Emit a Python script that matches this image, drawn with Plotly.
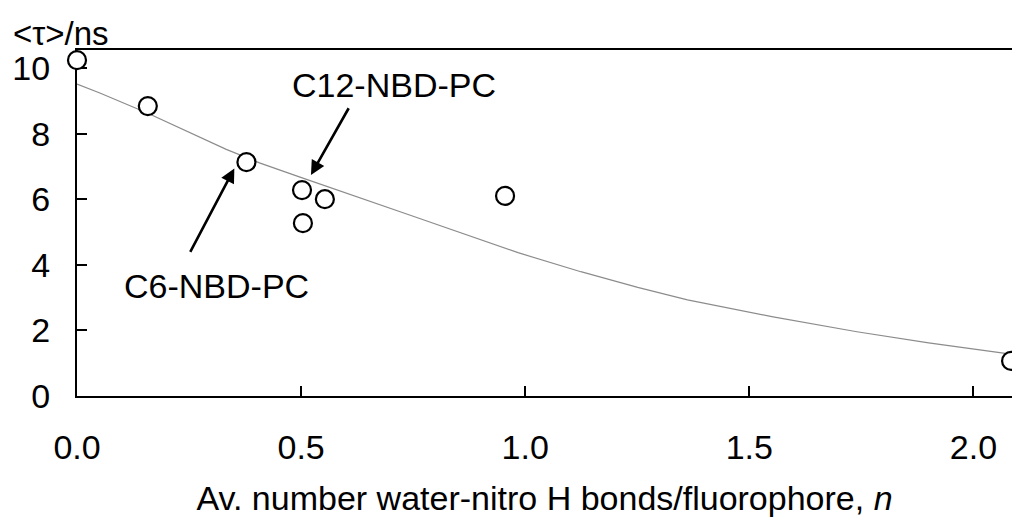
import plotly.graph_objects as go

# measured data points
n_vals = [0.0, 0.158, 0.378, 0.502, 0.553, 0.504, 0.955, 2.084]
tau_vals = [10.24, 8.84, 7.13, 6.28, 6.00, 5.27, 6.10, 1.07]

# fitted curve
fit_n = [0.0, 0.051, 0.158, 0.333, 0.407, 0.496, 0.75, 0.984, 1.124, 1.251, 1.362, 1.55, 1.74, 1.9, 2.067, 2.086]
fit_tau = [9.51, 9.24, 8.62, 7.52, 7.11, 6.68, 5.48, 4.37, 3.79, 3.31, 2.93, 2.42, 1.96, 1.62, 1.31, 1.27]

x_ticks = [0.0, 0.5, 1.0, 1.5, 2.0]
x_tick_text = ["0.0", "0.5", "1.0", "1.5", "2.0"]
y_ticks = [0, 2, 4, 6, 8, 10]
y_tick_text = ["0", "2", "4", "6", "8", "10"]

# annotation labels (data coords): text position, arrow head, arrow tail
labels = ["C12-NBD-PC", "C6-NBD-PC"]
label_x = [0.707, 0.311]
label_y = [9.48, 3.35]
head_x = [0.522, 0.351]
head_y = [6.74, 6.94]
tail_x = [0.608, 0.251]
tail_y = [8.82, 4.35]

FONT = "Arial, Liberation Sans, sans-serif"

W, H = 1012, 517
ML, MR, MT, MB = 77, 0, 50, 121
PW, PH = W - ML - MR, H - MT - MB

fig = go.Figure()
fig.add_trace(go.Scatter(x=fit_n, y=fit_tau, mode="lines",
                         line=dict(color="#8c8c8c", width=1.2),
                         hoverinfo="skip", showlegend=False))
fig.add_trace(go.Scatter(x=n_vals, y=tau_vals, mode="markers",
                         marker=dict(symbol="circle", size=18, color="white",
                                     line=dict(color="black", width=2.2)),
                         cliponaxis=False, showlegend=False))

for t, lx, ly in zip(labels, label_x, label_y):
    fig.add_annotation(x=lx, y=ly, xref="x", yref="y", text=t, showarrow=False,
                       font=dict(size=34, color="black", family=FONT))
for hx, hy, tx, ty in zip(head_x, head_y, tail_x, tail_y):
    fig.add_annotation(x=hx, y=hy, xref="x", yref="y", ax=tx, ay=ty,
                       axref="x", ayref="y", text="", showarrow=True,
                       arrowhead=2, arrowsize=1.1, arrowwidth=2.6, arrowcolor="black")

# y-axis unit label placed above the axis (left top corner)
fig.add_annotation(x=(11 - ML) / PW, y=(H - MB - 33) / PH, xref="paper", yref="paper",
                   text="&lt;τ&gt;/ns", showarrow=False, xanchor="left", yanchor="middle",
                   font=dict(size=33, color="black", family=FONT))

fig.update_layout(
    width=W, height=H,
    margin=dict(l=ML, r=MR, t=MT, b=MB),
    plot_bgcolor="white", paper_bgcolor="white",
    font=dict(family=FONT, size=34, color="black"),
    xaxis=dict(range=[0, 2.086], tickvals=x_ticks, ticktext=x_tick_text,
               ticks="inside", ticklen=10, tickwidth=2, tickcolor="black",
               showline=True, linecolor="black", linewidth=2, mirror=True,
               showgrid=False, zeroline=False, layer="below traces",
               ticklabelstandoff=20, tickfont=dict(size=34),
               title=dict(text="Av. number water-nitro H bonds/fluorophore, <i>n</i>",
                          font=dict(size=34), standoff=25)),
    yaxis=dict(range=[0, 10.55], tickvals=y_ticks, ticktext=y_tick_text,
               ticks="inside", ticklen=10, tickwidth=2, tickcolor="black",
               showline=True, linecolor="black", linewidth=2, mirror=False,
               showgrid=False, zeroline=False, layer="below traces",
               ticklabelstandoff=18, tickfont=dict(size=34)),
)

fig.write_html("out.html")
